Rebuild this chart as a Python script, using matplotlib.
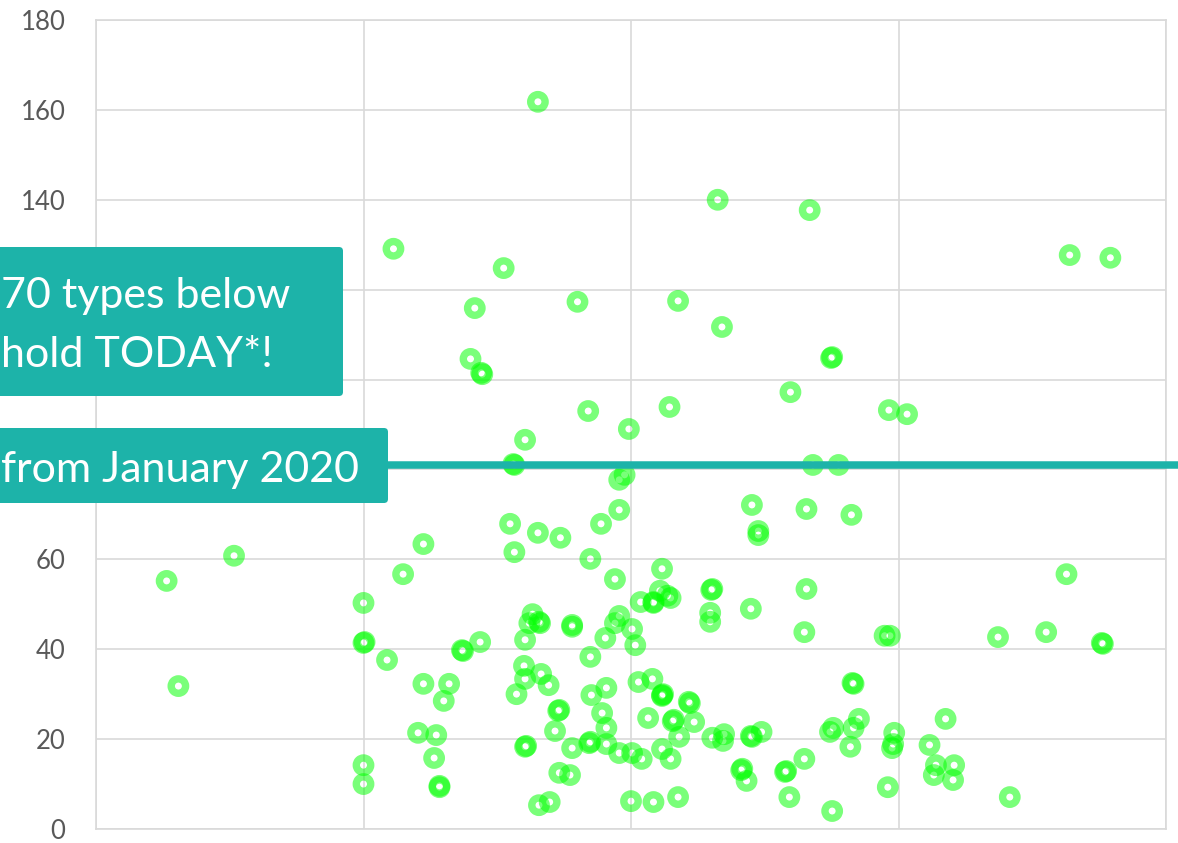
import matplotlib
matplotlib.use("Agg")
import matplotlib.pyplot as plt
from matplotlib.patches import FancyBboxPatch
from matplotlib.transforms import IdentityTransform

# ---- data ----
x_vals = [6.6, 7.7, 12.9, 25.0, 25.0, 25.1, 25.0, 25.0, 27.2, 28.7,
          30.6, 30.6, 33.0, 32.5, 30.1, 31.8, 31.6, 32.1, 32.1, 34.2,
          34.3, 35.9, 27.8, 38.1, 35.4, 35.0, 36.1, 36.0, 41.3, 45.0,
          54.4, 58.1, 58.5, 66.7, 91.0, 94.8, 68.7, 68.8, 64.9, 46.0,
          53.6, 49.8, 40.1, 39.0, 39.1, 48.9, 49.4, 67.0, 69.4, 74.1,
          75.8, 61.3, 61.9, 61.9, 66.4, 70.6, 38.7, 41.3, 43.4, 47.2,
          48.9, 39.1, 46.2, 48.5, 52.9, 90.7, 66.4, 57.6, 57.5, 50.9,
          52.1, 52.1, 52.7, 53.4, 53.7, 61.2, 57.4, 57.4, 48.9, 48.5,
          47.6, 50.1, 50.4, 46.2, 44.5, 44.5, 40.8, 40.5, 41.4, 41.5,
          40.1, 40.0, 40.1, 41.6, 42.3, 39.3, 46.3, 47.7, 43.2, 43.3,
          47.3, 47.7, 42.9, 50.7, 52.0, 52.9, 53.0, 52.9, 55.5, 55.4,
          53.9, 54.0, 51.6, 55.9, 54.5, 57.6, 58.6, 58.7, 61.2, 61.3,
          62.2, 44.5, 46.1, 46.2, 47.7, 48.9, 50.1, 51.0, 52.9, 53.7,
          40.1, 40.2, 43.3, 44.3, 60.3, 60.4, 60.8, 41.4, 42.4, 50.0,
          52.1, 54.4, 64.4, 64.5, 66.2, 73.7, 74.2, 84.3, 88.8, 94.1,
          94.0, 70.8, 70.7, 71.3, 70.8, 68.6, 68.9, 70.5, 74.6, 74.5,
          74.4, 79.4, 77.9, 78.5, 78.3, 80.2, 80.1, 66.2, 64.8, 68.8,
          74.0, 85.4]

y_vals = [55.2, 31.8, 60.8, 50.3, 41.4, 41.6, 14.2, 10.0, 37.6, 56.7,
          63.4, 32.3, 32.3, 28.5, 21.4, 20.9, 15.8, 9.3, 9.6, 39.8,
          39.6, 41.6, 129.1, 124.8, 115.9, 104.6, 101.2, 101.5, 161.8, 117.3,
          117.5, 140.0, 111.7, 137.7, 127.7, 127.1, 104.8, 105.0, 97.2, 93.0,
          93.9, 89.0, 86.6, 81.2, 81.0, 77.7, 78.8, 81.0, 81.0, 93.2,
          92.3, 72.1, 66.3, 65.4, 71.2, 69.9, 67.9, 65.9, 64.8, 67.9,
          71.0, 61.6, 60.1, 55.6, 57.9, 56.7, 53.4, 53.4, 53.2, 50.5,
          50.3, 50.5, 53.0, 51.9, 51.4, 49.0, 48.1, 46.1, 47.4, 45.8,
          42.5, 44.5, 40.9, 38.3, 45.4, 45.0, 47.8, 45.8, 46.1, 45.8,
          42.1, 36.3, 33.4, 34.5, 32.0, 30.0, 29.8, 31.4, 26.3, 26.5,
          25.8, 22.5, 21.8, 32.7, 33.4, 29.8, 30.0, 29.6, 28.0, 28.3,
          24.0, 24.3, 24.7, 23.8, 20.5, 20.3, 19.6, 21.1, 20.7, 20.5,
          21.6, 18.0, 19.1, 19.4, 18.9, 16.9, 16.9, 15.6, 17.8, 15.6,
          18.3, 18.5, 12.5, 12.0, 13.1, 13.4, 10.7, 5.3, 6.0, 6.2,
          6.0, 7.1, 12.7, 12.9, 43.8, 43.0, 43.0, 42.7, 43.8, 41.2,
          41.4, 32.3, 32.5, 24.5, 22.5, 21.6, 22.5, 18.3, 21.4, 18.9,
          18.0, 24.5, 18.7, 14.2, 12.0, 14.2, 10.9, 15.6, 7.1, 4.0,
          9.3, 7.1]

threshold = 81.0
y_ticks = [0, 20, 40, 60, 80, 100, 120, 140, 160, 180]
# labels 80-120 are hidden behind the annotation boxes in the reference
y_tick_labels = ["0", "20", "40", "60", "", "", "", "140", "160", "180"]
x_ticks = [0, 25, 50, 75, 100]
box1_lines = ["70 types below", "hold TODAY*!"]
box2_text = "from January 2020"

TEAL = "#1db3a9"
GRID = "#d9d9d9"
FONT = "Lato"

W, H = 1178, 843
fig = plt.figure(figsize=(W / 100, H / 100), dpi=100)
ax = fig.add_axes([96 / W, 14 / H, 1070 / W, 809 / H])

ax.set_xlim(0, 100)
ax.set_ylim(0, 180)
ax.set_xticks(x_ticks)
ax.set_yticks(y_ticks)
ax.set_xticklabels([])
ax.set_yticklabels(y_tick_labels, fontsize=18.5,
                   color="#595959", family=FONT)
ax.tick_params(axis="both", length=0)
ax.tick_params(axis="y", pad=22)
ax.grid(True, color=GRID, linewidth=1.2)
ax.set_axisbelow(True)
for side in ["left", "bottom", "right", "top"]:
    ax.spines[side].set_color(GRID)
    ax.spines[side].set_linewidth(1.2)

ax.scatter(x_vals, y_vals, s=108, facecolors="none",
           edgecolors=(0.0, 1.0, 0.0, 0.52), linewidths=5.3, zorder=2)

ax.plot([27.0, 101.2], [threshold, threshold], color=TEAL,
        linewidth=5.4, solid_capstyle="butt", clip_on=False, zorder=4)

# annotation boxes (pixel coordinates, origin bottom-left)
def box(x0, y0_top, x1, y1_bottom):
    p = FancyBboxPatch((x0, H - y1_bottom), x1 - x0, y1_bottom - y0_top,
                       boxstyle="round,pad=0,rounding_size=4",
                       transform=IdentityTransform(), facecolor=TEAL,
                       edgecolor="none", zorder=5)
    fig.add_artist(p)

box(-20, 247, 343, 396)
box(-20, 428, 388, 503)

fig.text(1 / W, (H - 308) / H, box1_lines[0], color="white", fontsize=31,
         family=FONT, ha="left", va="baseline", zorder=6)
fig.text(1 / W, (H - 367) / H, box1_lines[1], color="white", fontsize=31,
         family=FONT, ha="left", va="baseline", zorder=6)
fig.text(1 / W, (H - 482) / H, box2_text, color="white", fontsize=31,
         family=FONT, ha="left", va="baseline", zorder=6)

fig.savefig("out.png", dpi=100)
